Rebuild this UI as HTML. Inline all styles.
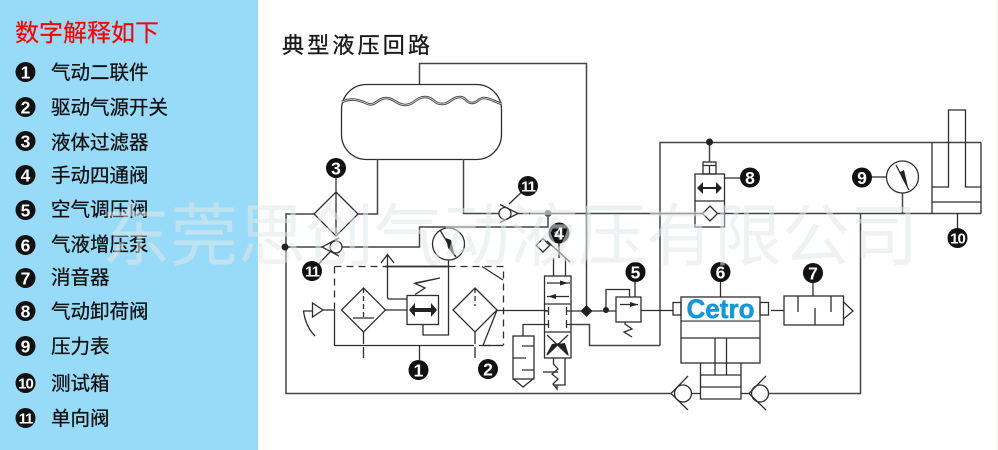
<!DOCTYPE html>
<html><head><meta charset="utf-8"><style>
html,body{margin:0;padding:0;background:#fff}
svg{display:block}
.cn{font-family:"Liberation Sans","Noto Sans CJK SC",sans-serif}
.it{font-size:19.5px;fill:#111;stroke:#111;stroke-width:.3}
.n{font-family:"Liberation Sans",sans-serif;font-weight:bold;fill:#fff;text-anchor:middle}
.l{fill:none;stroke:#2e2e2e;stroke-width:1.3}
.g{fill:none;stroke:#444;stroke-width:1.5}
.k{fill:#111}
</style></head><body>
<svg width="998" height="450" viewBox="0 0 998 450" xmlns="http://www.w3.org/2000/svg">
<rect width="998" height="450" fill="#fff"/>
<rect width="258" height="450" fill="#97dbf8"/>
<rect x="997" width="1" height="450" fill="#fdeeee"/>

<text class="cn" x="15" y="41" font-size="24" fill="#f00" stroke="#f00" stroke-width=".2">数字解释如下</text>
<g class="k">
<circle cx="25.5" cy="72" r="10"/><circle cx="25.5" cy="107" r="10"/><circle cx="25.5" cy="141" r="10"/><circle cx="25.5" cy="175" r="10"/><circle cx="25.5" cy="210" r="10"/><circle cx="25.5" cy="245" r="10"/><circle cx="25.5" cy="278" r="10"/><circle cx="25.5" cy="311" r="10"/><circle cx="25.5" cy="346" r="10"/><circle cx="25.5" cy="383" r="10"/><circle cx="25.5" cy="418" r="10"/>
</g>
<g class="n" font-size="17.5">
<text x="25.5" y="78.3">1</text><text x="25.5" y="113.3">2</text><text x="25.5" y="147.3">3</text><text x="25.5" y="181.3">4</text><text x="25.5" y="216.3">5</text><text x="25.5" y="251.3">6</text><text x="25.5" y="284.3">7</text><text x="25.5" y="317.3">8</text><text x="25.5" y="352.3">9</text>
<text x="25.5" y="388.5" font-size="15" letter-spacing="-1">10</text><text x="25.5" y="423.5" font-size="15" letter-spacing="-1">11</text>
</g>
<g class="cn it">
<text x="51" y="79">气动二联件</text><text x="51" y="114">驱动气源开关</text><text x="51" y="149">液体过滤器</text><text x="51" y="182">手动四通阀</text><text x="51" y="216">空气调压阀</text><text x="51" y="251">气液增压泵</text><text x="51" y="284">消音器</text><text x="51" y="318">气动卸荷阀</text><text x="51" y="353">压力表</text><text x="51" y="390">测试箱</text><text x="51" y="425">单向阀</text>
</g>

<text class="cn" x="282" y="53" font-size="22" letter-spacing="3.2" fill="#1a1a1a" stroke="#1a1a1a" stroke-width=".35">典型液压回路</text>

<!-- tank -->
<rect class="l" x="341.5" y="84.5" width="160" height="75" rx="25" ry="25"/>
<path d="M342 102C350 98 358 99 368 104C376 106 378 98 386 98C394 98 397 105 405 105C414 105 416 97 425 97C433 97 434 104 442 104C450 104 452 97 460 97C466 97 466 103 472 103C478 103 478 98 484 98C490 98 495 102 502 104" fill="none" stroke="#444" stroke-width="2.6"/>
<path d="M342 102C350 98 358 99 368 104C376 106 378 98 386 98C394 98 397 105 405 105C414 105 416 97 425 97C433 97 434 104 442 104C450 104 452 97 460 97C466 97 466 103 472 103C478 103 478 98 484 98C490 98 495 102 502 104" fill="none" stroke="#ddd" stroke-width="0.8"/>

<!-- main lines -->
<g class="g">
<path d="M419.5 84V63.5H586.5V311"/>
<path d="M377.5 159V214H358"/>
<path d="M463.5 159V213.5H499"/>
<path d="M314 214H286V393.5H671"/>
<path d="M286 247H322M342 247H419.5V227H548V213"/>
<path d="M518 213.5H702M718 213.5H981"/>
<path d="M860.5 213V393.5H768"/>
<path d="M902.5 193V213"/>
<path d="M709.5 142V162"/>
<path d="M660 345.5V142.5H981"/>
<path d="M660 345.5H589.5V324.5H572"/>
</g>
<circle cx="285" cy="247" r="3.5" fill="#222"/>
<circle cx="548" cy="213.5" r="3.5" fill="#555"/>
<circle cx="709.5" cy="142" r="3.5" fill="#222"/>

<g class="l">
<!-- diamond 3 -->
<path d="M336 192L358 214L336 236L314 214Z"/><path d="M336 168V234"/>
<!-- lower check -->
<circle cx="336" cy="247" r="6"/><path d="M339 238L322 247L339 256"/>
<path d="M330 252L312 271"/>
<!-- upper check -->
<circle cx="505" cy="213.5" r="6"/><path d="M500 204.5L518 213.5L500 222.5"/>
<path d="M509 204L528 186"/>
<!-- gauge -->
<circle cx="448.5" cy="244" r="16"/>
<path d="M440 230L456 257"/>
<!-- FRL box -->
<path d="M334.5 266.5H386" stroke-dasharray="7 5"/>
<path d="M385 266.5H448.5" stroke-width="1.7"/>
<path d="M448.5 266.5H503.5V345" stroke-dasharray="7 5"/>
<path d="M334.5 266.5V310" stroke-dasharray="7 5"/>
<path d="M334.5 310V345.5H462"/>
<path d="M462 345.5H503.5" stroke-dasharray="12 5"/>
<path d="M482 266.5L503 280"/>
<path d="M497 310L483 345.5H503"/>
<!-- left exhaust -->
<path d="M323 310H334.5"/><path d="M312.5 303L323 310L312.5 317Z"/>
<path d="M312 311H303.5C305 322 309 330 315 336"/>
<!-- filter 1 -->
<path d="M363.5 288L385.5 310L363.5 332L341.5 310Z"/>
<path d="M353 318H374"/>
<path d="M363.5 288V318" stroke-dasharray="5 3"/>
<path d="M363.5 332V358" stroke-dasharray="12 3"/>
<path d="M385 310H407"/>
<!-- valve -->
<rect x="407" y="295.5" width="31.5" height="29"/>
<path d="M448.5 260V335H423V324"/>
<path d="M407 299H389Q387.5 299 387.5 297V255M381 263L387.5 254.5L394 263"/>
<path d="M415 283L440 278L415 283.5L425 288L415 294.5"/>
<!-- filter 2 -->
<path d="M475 288L497 310L475 332L453 310Z"/>
<path d="M475 288V306" stroke-dasharray="5 3"/>
<path d="M475 332V358" stroke-dasharray="12 3"/>
<!-- to valve 4 -->
<path d="M497 310.5H547"/>
<path d="M419.5 345V360"/>
<!-- reservoir -->
<rect x="513" y="336" width="21" height="43"/>
<path d="M523 336V324.5H548M522 346H534M513 358H526M522 370H534"/>
<path d="M513.5 379L523 387L533 379"/>
<!-- valve 4 -->
<rect x="544.5" y="276" width="26.5" height="82"/>
<path d="M544.5 304H571M544.5 332H571"/>
<path d="M547 283H570M547 296.5H569"/>
<path d="M548.5 307V315M548.5 320V328M566.5 307V315M566.5 320V328M566.5 311H572M566.5 324.5H572M544 311H548.5M544 324.5H548.5"/>
<path d="M547 335L568 355M568 335L547 355"/>
<path d="M553.5 276V258M565.5 276V258"/>
<path d="M547 241L570 262"/>
<rect x="538.5" y="240.5" width="9.5" height="9.5" transform="rotate(45 543 245)"/>
<path d="M553.5 358V364L558 369L552 374L558 379L553 384L557 389V385M553 385H565V358"/>
<path d="M543 372H558"/>
<path d="M559 243V258"/>
<!-- valve 5 -->
<rect x="616" y="297" width="25" height="25"/>
<path d="M606 310V289.5H629.5V297"/>
<path d="M620 304.5H638"/>
<path d="M635 282V297"/>
<path d="M625 322V324L632 329L624 332L632 337"/>
<path d="M571 311H616M641 310.5H673"/>
<!-- pump 6 -->
<rect x="673" y="302.5" width="8" height="12.5"/>
<rect x="681" y="297" width="79" height="66"/>
<path d="M681 321H760M681 338H760"/>
<rect x="760" y="302.5" width="8.5" height="12.5"/>
<path d="M771 310.5H784"/>
<path d="M715 338V375M726.5 338V375"/>
<path d="M700.5 363V399H741V363M700.5 375H741M700.5 387H741"/>
<path d="M720.5 282V297"/>
<!-- check valves bottom -->
<circle cx="683" cy="393.5" r="8.5"/><path d="M688 376L671 393.5L688 410"/>
<path d="M691 393.5H700.5"/>
<circle cx="760" cy="393.5" r="8.5"/><path d="M766 376L749 393.5L766 410"/>
<path d="M741 393.5H749"/>
<!-- silencer 7 -->
<rect x="784" y="296" width="59.5" height="29"/>
<path d="M798 296V312M815 308V325M831 296V312"/>
<path d="M843.5 302L853 311L843.5 319"/>
<path d="M813 283V296"/>
<!-- valve 8 -->
<rect x="695" y="174" width="29.5" height="53"/>
<path d="M695 201H724.5"/>
<rect x="703" y="162" width="13" height="12"/>
<path d="M703 165.5H716M709.5 165.5V174"/>
<path d="M710 206L717.5 213.5L710 221L702.5 213.5Z" fill="#fff"/>
<path d="M702 188H718"/>
<path d="M724 178H741"/>
<!-- gauge 9 -->
<circle cx="902.5" cy="177" r="16"/>
<path d="M896 165L909 190"/>
<path d="M872 177H886.5"/>
<!-- cylinder 10 -->
<path d="M932 142.5V213.5M981 142.5V213.5"/>
<path d="M932 187H948.5V110H965.5V187H981"/>
<path d="M932 202H981"/>
<path d="M957.5 213V228"/>
</g>

<!-- arrows solid -->
<g fill="#222">
<path d="M431 303L437 310L431 317V312H415V317L409 310L415 303V308H431Z"/>
<path d="M716 182L722 188L716 194V189H703V194L697 188L703 182V187H716Z"/>
<path d="M560 280.5L568 283L560 285.5Z"/>
<path d="M556 294L548 296.5L556 299Z"/>
<path d="M630 302L638 304.5L630 307Z"/>
<path d="M546 355L552 344L560 343Z"/>
<path d="M569 356L557 344L565 343Z"/>
<path d="M586.5 305L592.5 311L586.5 317L580.5 311Z"/>
<circle cx="606" cy="310" r="3"/>
<path d="M446 238L451 240L455 257L448 248Z"/>
<path d="M900 172L904 170L908 187L903 180Z"/>
</g>

<!-- Cetro -->
<rect x="682" y="298" width="77" height="22.5" fill="#fff"/>
<text x="686.5" y="318" font-family="Liberation Sans,sans-serif" font-weight="bold" font-size="27" fill="#1296e0" stroke="#1296e0" stroke-width=".5" textLength="68" lengthAdjust="spacingAndGlyphs">Cetro</text>

<!-- number badges -->
<g class="k">
<circle cx="336" cy="168" r="10"/><circle cx="528" cy="186" r="10"/><circle cx="312" cy="271" r="10"/><circle cx="418.5" cy="370" r="10"/><circle cx="488" cy="369" r="10"/><circle cx="559" cy="233" r="10.5"/><circle cx="635.5" cy="272" r="10"/><circle cx="720.5" cy="272" r="10"/><circle cx="813" cy="273" r="10"/><circle cx="750" cy="177.5" r="10"/><circle cx="862" cy="177.5" r="10"/><circle cx="957.5" cy="238" r="10"/>
</g>
<g class="n" font-size="17.5">
<text x="336" y="174.3">3</text><text x="418.5" y="376.3">1</text><text x="488" y="375.3">2</text><text x="559" y="239.3">4</text><text x="635.5" y="278.3">5</text><text x="720.5" y="278.3">6</text><text x="813" y="279.3">7</text><text x="750" y="183.8">8</text><text x="862" y="183.8">9</text>
<text x="528" y="191.5" font-size="15" letter-spacing="-1">11</text><text x="312" y="276.5" font-size="15" letter-spacing="-1">11</text><text x="957.5" y="243.5" font-size="15" letter-spacing="-1">10</text>
</g>

<!-- watermark -->
<text class="cn" x="102" y="260" font-size="68" fill="#e2e7ea" fill-opacity="0.55">东莞思创气动液压有限公司</text>
</svg>
</body></html>
